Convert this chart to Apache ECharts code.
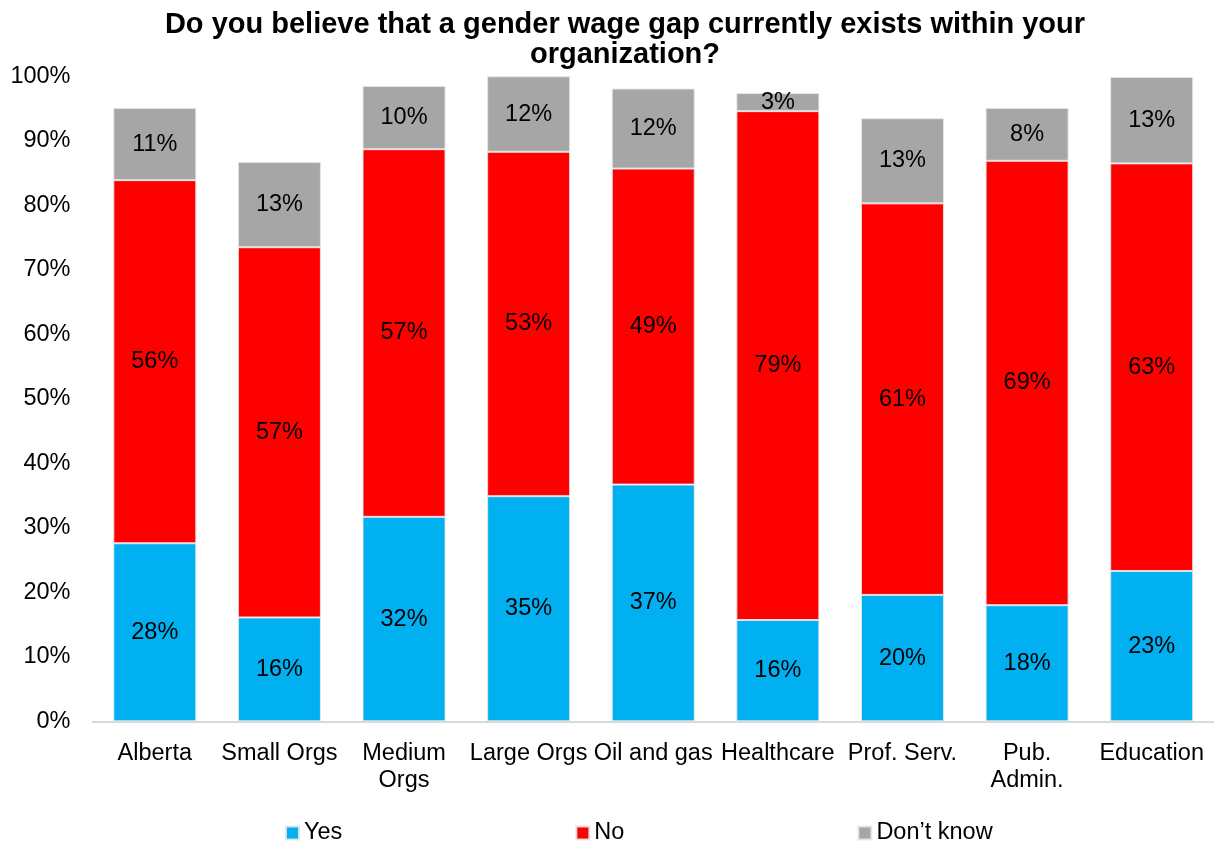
<!DOCTYPE html>
<html>
<head>
<meta charset="utf-8">
<script src="https://cdn.jsdelivr.net/npm/echarts@6/dist/echarts.min.js"></script>
<style>
  html, body { margin: 0; padding: 0; background: #fff; }
  #chart { width: 1214px; height: 841px; }
</style>
</head>
<body>
<div id="chart"></div>
<script>
// Survey responses by group (share of respondents, %)
const categories = ['Alberta', 'Small Orgs', 'Medium\nOrgs', 'Large Orgs', 'Oil and gas',
                    'Healthcare', 'Prof. Serv.', 'Pub.\nAdmin.', 'Education'];
const yesValues      = [27.6, 16.1, 31.7, 34.9, 36.7, 15.7, 19.6, 18.0, 23.3];
const noValues       = [56.3, 57.4, 57.0, 53.4, 49.0, 78.9, 60.7, 68.9, 63.2];
const dontKnowValues = [11.2, 13.2, 9.8, 11.7, 12.4, 2.8, 13.2, 8.2, 13.4];
const seriesNames = ['Yes', 'No', 'Don\u2019t know'];
const yTickMax = 100;
const yTickStep = 10;

const FONT = '"Liberation Sans", Arial, sans-serif';
const TEXT_SIZE = 23.5;

const labelStyle = {
  show: true,
  position: 'inside',
  color: '#000',
  fontFamily: FONT,
  fontSize: TEXT_SIZE,
  formatter: p => Math.round(p.value) + '%'
};

function barSeries(name, data, color) {
  return {
    name: name,
    type: 'bar',
    stack: 'total',
    data: data,
    barCategoryGap: '33.4%',
    itemStyle: { color: color, borderColor: 'rgba(230,230,230,0.9)', borderWidth: 1 },
    label: labelStyle,
    emphasis: { disabled: true }
  };
}

const chart = echarts.init(document.getElementById('chart'), null, { renderer: 'canvas' });
chart.setOption({
  animation: false,
  backgroundColor: '#fff',
  title: {
    text: 'Do you believe that a gender wage gap currently exists within your\norganization?',
    left: 620,
    top: 5,
    textAlign: 'center',
    textStyle: {
      fontFamily: FONT,
      fontWeight: 'bold',
      fontSize: 29,
      lineHeight: 30,
      color: '#000'
    }
  },
  legend: {
    top: 816,
    left: 280,
    itemWidth: 13,
    itemHeight: 13,
    itemGap: 233,
    icon: 'rect',
    textStyle: { fontFamily: FONT, fontSize: TEXT_SIZE, color: '#000' },
    data: seriesNames
  },
  grid: {
    left: 92.5,
    top: 76.3,
    width: 1125,
    height: 645
  },
  xAxis: {
    type: 'category',
    data: categories,
    axisTick: { show: false },
    axisLine: { lineStyle: { color: '#D9D9D9', width: 2 } },
    axisLabel: {
      color: '#000',
      fontFamily: FONT,
      fontSize: TEXT_SIZE,
      lineHeight: 27,
      margin: 19,
      interval: 0
    }
  },
  yAxis: {
    type: 'value',
    min: 0,
    max: yTickMax,
    interval: yTickStep,
    splitLine: { show: false },
    axisLine: { show: false },
    axisTick: { show: false },
    axisLabel: {
      color: '#000',
      fontFamily: FONT,
      fontSize: TEXT_SIZE,
      margin: 22,
      formatter: v => v + '%'
    }
  },
  series: [
    barSeries(seriesNames[0], yesValues, '#00B0F0'),
    barSeries(seriesNames[1], noValues, '#FF0000'),
    barSeries(seriesNames[2], dontKnowValues, '#A6A6A6')
  ]
});
</script>
</body>
</html>
